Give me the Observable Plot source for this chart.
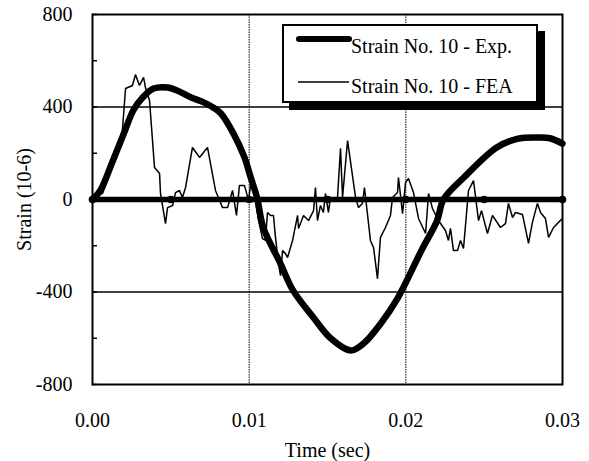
<!DOCTYPE html>
<html>
<head>
<meta charset="utf-8">
<script src="https://cdn.jsdelivr.net/npm/d3@7"></script>
<script src="https://cdn.jsdelivr.net/npm/@observablehq/plot@0.6"></script>
<style>
  html, body { margin: 0; padding: 0; background: #fff; }
  #wrap { position: relative; width: 589px; height: 461px; font-family: "Liberation Serif", "Times New Roman", serif; }
  #wrap svg text { font-family: "Liberation Serif", "Times New Roman", serif !important; }
  #legend { position: absolute; left: 282px; top: 24px; width: 252px; height: 75px; border: 2px solid #000; background: #fff; box-shadow: 7px 7px 0 #000; }
  #legend svg { display: block; }
</style>
</head>
<body>
<div id="wrap"></div>
<script>
// Experimental strain (thick curve)
const expT = [0, 0.0005, 0.0013, 0.0020, 0.0026, 0.0032, 0.0039, 0.0048, 0.0054, 0.0063, 0.0071, 0.0077, 0.0082, 0.0090, 0.0097, 0.0101, 0.0105, 0.0109, 0.0120, 0.0128, 0.0141, 0.0152, 0.0165, 0.0173, 0.0184, 0.0195, 0.0210, 0.0220, 0.0224, 0.0237, 0.0258, 0.0271, 0.0284, 0.0292, 0.0300];
const expV = [0, 39, 168, 285, 385, 441, 480, 484, 471, 441, 420, 398, 372, 285, 182, 95, 9, -121, -277, -393, -510, -600, -653, -623, -536, -424, -220, -91, 0, 95, 225, 262, 268, 265, 242];

// FEA strain (thin noisy curve)
const feaT = [0, 0.00064, 0.00115, 0.00166, 0.00191, 0.00211, 0.00255, 0.00274, 0.00300, 0.00326, 0.00338, 0.00364, 0.00396, 0.00428, 0.00434, 0.00466, 0.00479, 0.00511, 0.00530, 0.00555, 0.00574, 0.00594, 0.00638, 0.00683, 0.00734, 0.00785, 0.00830, 0.00862, 0.00894, 0.00919, 0.00938, 0.00970, 0.00996, 0.01015, 0.01034, 0.01060, 0.01085, 0.01104, 0.01117, 0.01136, 0.01155, 0.01168, 0.01187, 0.01200, 0.01213, 0.01232, 0.01245, 0.01277, 0.01309, 0.01315, 0.01347, 0.01379, 0.01411, 0.01423, 0.01436, 0.01455, 0.01474, 0.01487, 0.01506, 0.01519, 0.01538, 0.01564, 0.01583, 0.01596, 0.01628, 0.01679, 0.01698, 0.01723, 0.01736, 0.01774, 0.01794, 0.01819, 0.01838, 0.01870, 0.01902, 0.01915, 0.01947, 0.01953, 0.01979, 0.01998, 0.02017, 0.02049, 0.02081, 0.02126, 0.02145, 0.02170, 0.02208, 0.02253, 0.02272, 0.02285, 0.02304, 0.02330, 0.02349, 0.02368, 0.02400, 0.02432, 0.02464, 0.02483, 0.02521, 0.02553, 0.02604, 0.02636, 0.02655, 0.02681, 0.02700, 0.02745, 0.02783, 0.02808, 0.02840, 0.02860, 0.02891, 0.02911, 0.02943, 0.02974, 0.03000];
const feaV = [17, 26, 120, 230, 300, 480, 493, 540, 493, 528, 484, 428, 138, 112, 26, -104, -35, -26, 30, 39, 9, 52, 225, 182, 225, 39, -35, -35, 39, -69, 61, 61, -4, 90, 20, -91, -169, -177, -56, -69, -69, -164, -277, -329, -221, -234, -251, -177, -69, -125, -69, -91, -48, 52, -91, -26, -56, 26, -56, 9, 0, 9, 221, 9, 255, 9, -35, -17, 52, -177, -208, -342, -164, -121, -69, 9, 30, 95, -61, 73, 91, 30, -82, -147, 26, -39, -91, -134, -177, -125, -221, -221, -177, -212, 39, 82, -91, -48, -147, -69, -121, -104, -17, -78, -56, -65, -190, -99, -17, -56, -82, -164, -121, -99, -82];

// Zero baseline trace with markers
const baseT = [0, 0.005, 0.01, 0.015, 0.02, 0.025, 0.03];
const baseV = [0, 0, 0, 0, 0, 0, 0];

// Axes
const xTicks = [0, 0.01, 0.02, 0.03];
const yTicks = [-800, -400, 0, 400, 800];
const yMinor = [-800, -600, -400, -200, 0, 200, 400, 600, 800];
const yGrid = [-400, 0, 400];
const xGrid = [0.01, 0.02];

const exp = expT.map((t, i) => ({t, v: expV[i]}));
const fea = feaT.map((t, i) => ({t, v: feaV[i]}));
const base = baseT.map((t, i) => ({t, v: baseV[i]}));

const serif = "Liberation Serif, Times New Roman, serif";

const chart = Plot.plot({
  width: 589,
  height: 461,
  marginLeft: 92,
  marginRight: 27,
  marginTop: 14,
  marginBottom: 77,
  style: "font-family: 'Liberation Serif', 'Times New Roman', serif; font-size: 20px; color: #000; background: #fff; overflow: visible;",
  x: {domain: [0, 0.03]},
  y: {domain: [-800, 800]},
  marks: [
    Plot.ruleY(yGrid, {stroke: "#000", strokeWidth: 1.5}),
    Plot.ruleX(xGrid, {stroke: "#000", strokeWidth: 1, strokeDasharray: "1.5,1"}),
    Plot.line(exp, {x: "t", y: "v", stroke: "#000", strokeWidth: 6.5, strokeLinejoin: "round", strokeLinecap: "round", curve: "catmull-rom"}),
    Plot.line(fea, {x: "t", y: "v", stroke: "#000", strokeWidth: 1.5, strokeLinejoin: "miter"}),
    Plot.line(base, {x: "t", y: "v", stroke: "#000", strokeWidth: 5.5}),
    Plot.dot(base, {x: "t", y: "v", r: 3.8, fill: "#000"}),
    Plot.axisX({ticks: xTicks, tickFormat: d3.format(".2f"), tickSize: 0, tickPadding: 28, fontFamily: serif, fontSize: 20, label: "Time (sec)", labelAnchor: "center", labelArrow: "none", labelOffset: 72}),
    Plot.axisY({ticks: yTicks, tickFormat: d => String(d), tickSize: 0, tickPadding: 20, fontFamily: serif, fontSize: 20, label: "Strain (10-6)", labelAnchor: "center", labelArrow: "none", labelOffset: 76}),
    Plot.axisY({ticks: yMinor, tickSize: -5, tickFormat: () => "", label: null, strokeWidth: 1.5}),
    Plot.frame({stroke: "#000", strokeWidth: 2})
  ]
});

const wrap = document.getElementById("wrap");
wrap.appendChild(chart);

// Legend
const legend = document.createElement("div");
legend.id = "legend";
legend.innerHTML = `
<svg width="252" height="75" xmlns="http://www.w3.org/2000/svg">
  <line x1="15" y1="13" x2="65" y2="13" stroke="#000" stroke-width="6" stroke-linecap="round"/>
  <text x="67" y="27" font-family="Liberation Serif, Times New Roman, serif" font-size="20">Strain No. 10 - Exp.</text>
  <line x1="14" y1="56" x2="65" y2="56" stroke="#000" stroke-width="1.5"/>
  <text x="67" y="67" font-family="Liberation Serif, Times New Roman, serif" font-size="20">Strain No. 10 - FEA</text>
</svg>`;
wrap.appendChild(legend);
</script>
</body>
</html>
